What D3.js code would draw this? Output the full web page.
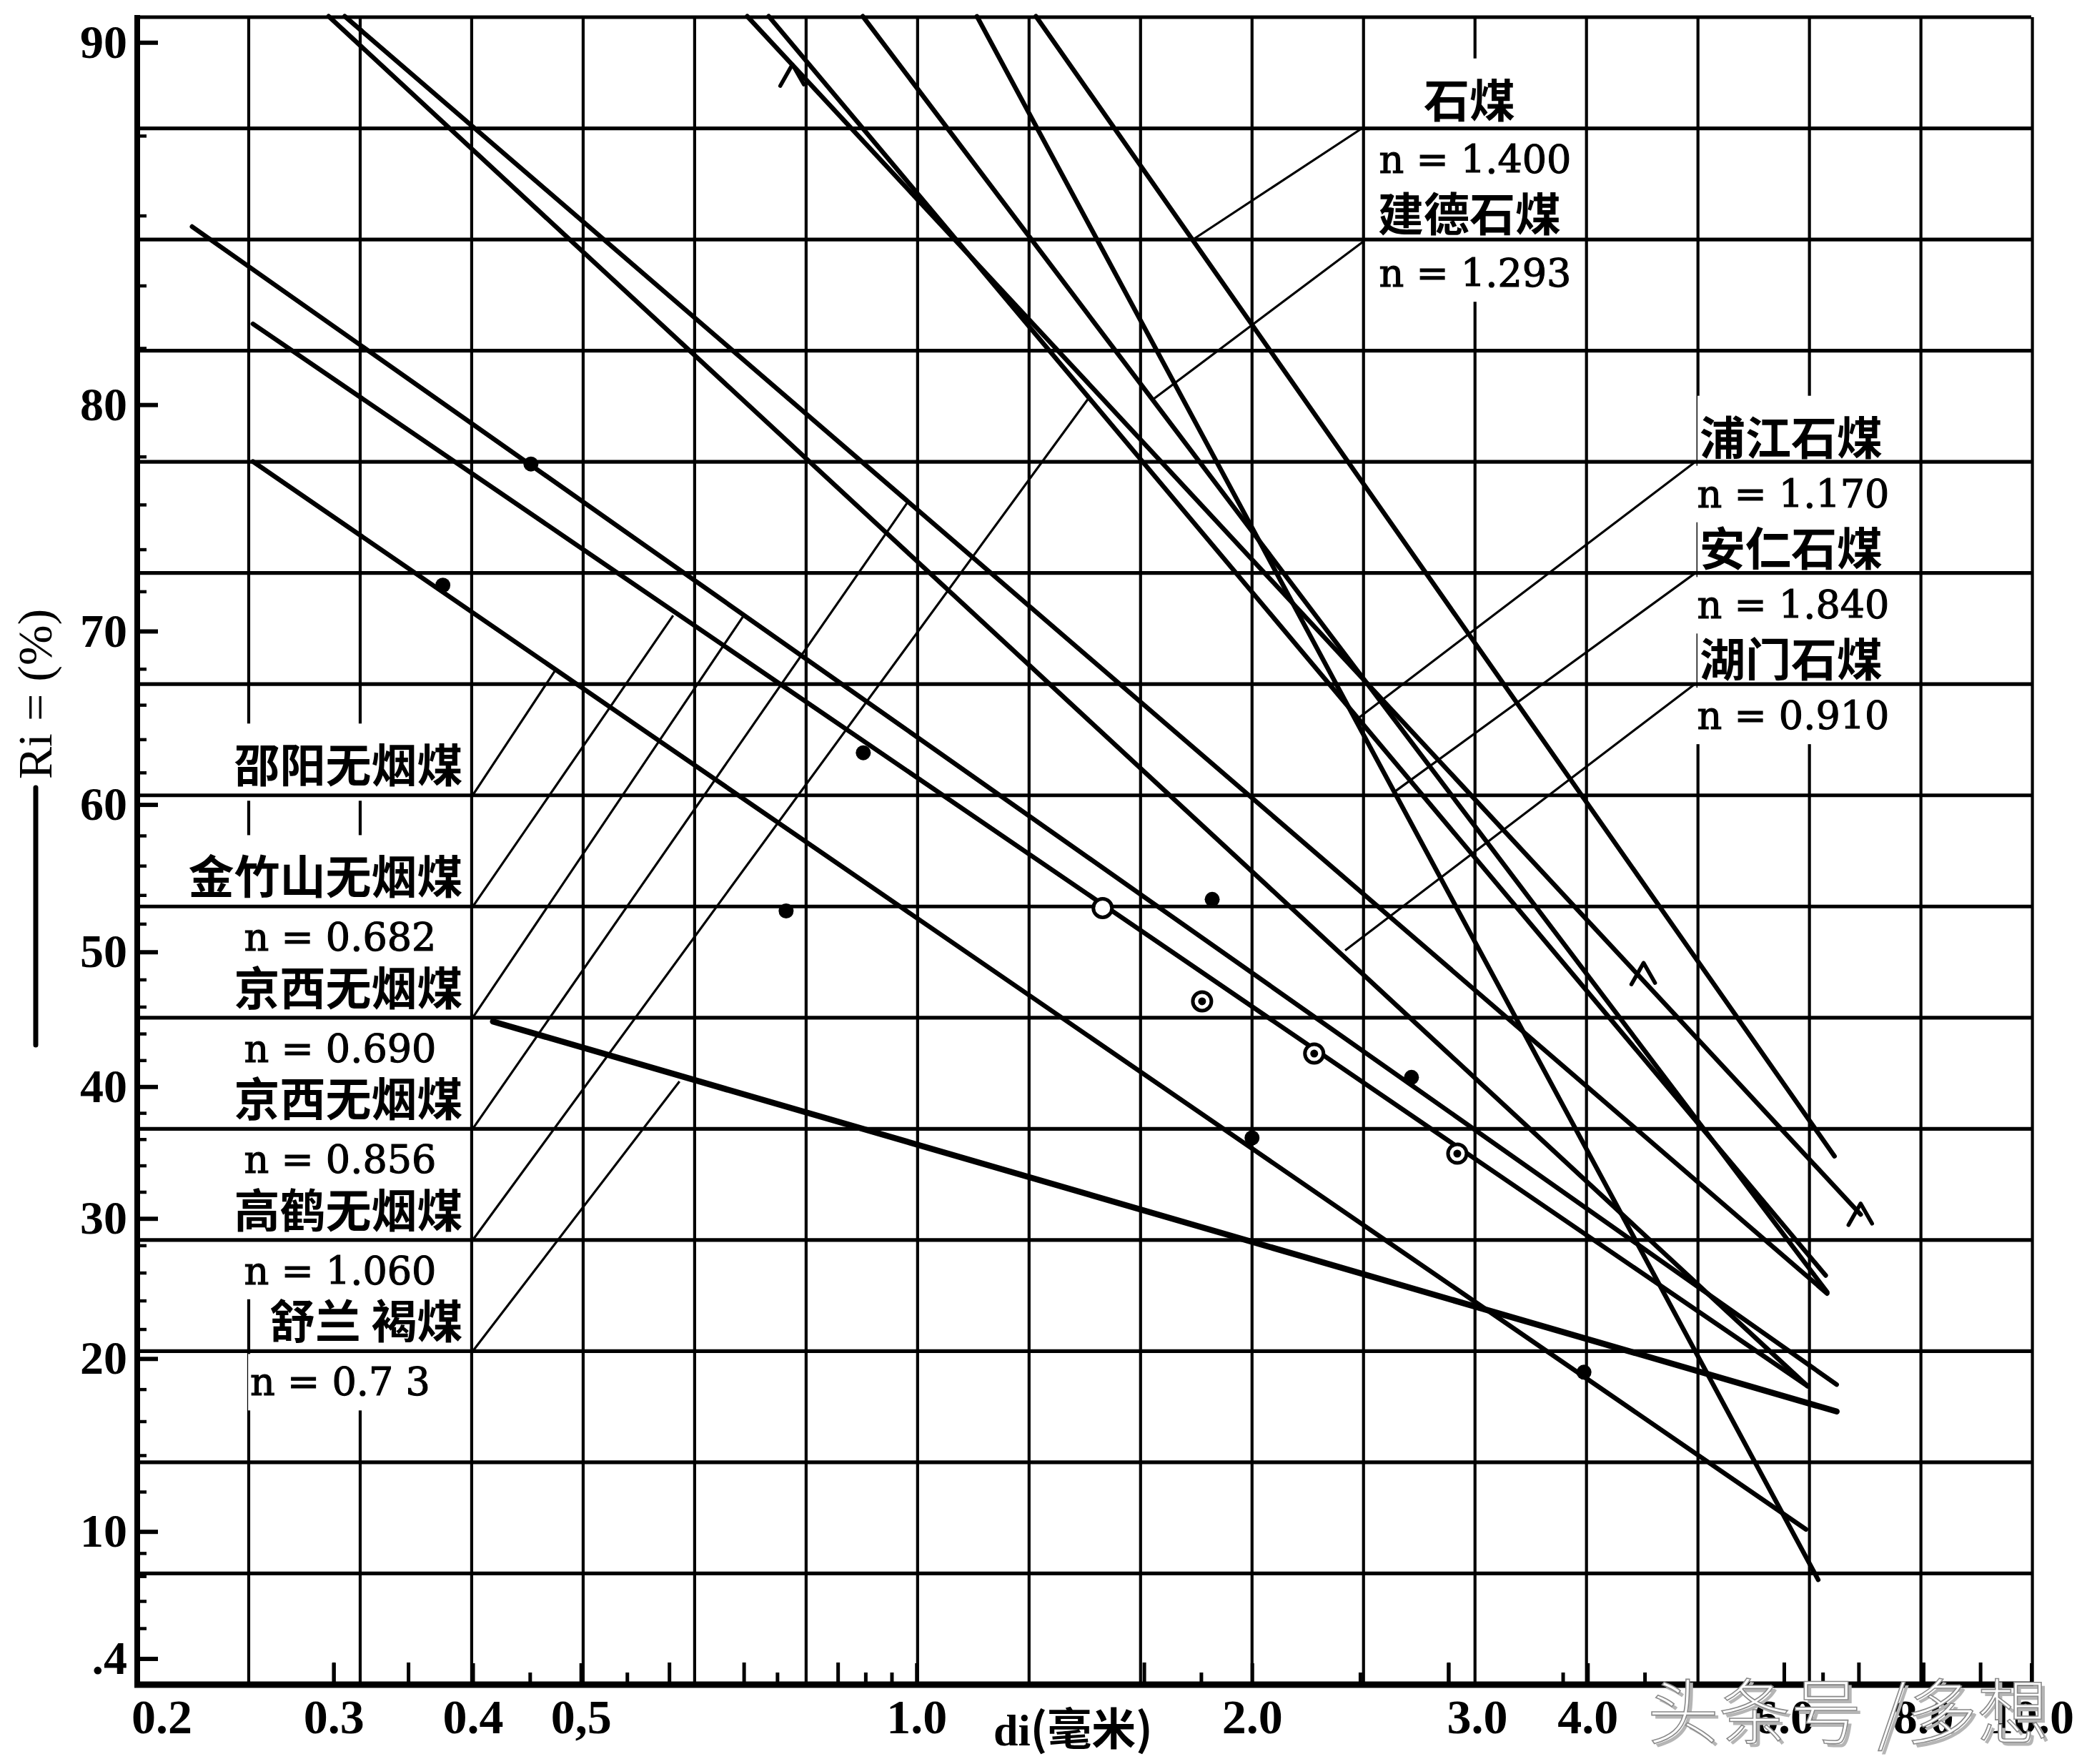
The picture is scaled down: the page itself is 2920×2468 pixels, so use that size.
<!DOCTYPE html>
<html><head><meta charset="utf-8">
<script src="https://cdn.jsdelivr.net/npm/d3@7"></script>
<style>html,body{margin:0;padding:0;background:#fff;}</style>
</head><body>
<svg id="chart" width="2920" height="2468"></svg>
<script>
// ---------------- DATA ----------------
const xTickValues = [0.2, 0.3, 0.4, 0.5, 1, 2, 3, 4, 6, 8, 10];
const xTickLabels = ["0.2", "0.3", "0.4", "0,5", "1.0", "2.0", "3.0", "4.0", "6.0", "8.0", "10.0"];
const xMinorLong = [0.3, 0.35, 0.6, 0.7, 0.85, 1.6, 3, 6, 7, 8, 9];
const xMinorShort = [0.45, 0.55, 0.75, 0.9, 0.95, 1.8, 2.5, 3.8, 4.5, 6.5];
const yTickValues = [90, 80, 70, 60, 50, 40, 30, 20, 10, 5];
const yTickLabels = ["90", "80", "70", "60", "50", "40", "30", "20", "10", ".4"];
const yMinorValues = [88, 86, 84, 82, 78, 76, 74, 72, 68, 66, 64, 62, 58, 56, 54, 52, 48, 46, 44, 42,
                      38, 36, 34, 32, 28, 26, 24, 22, 18, 16, 14, 12, 9, 8, 7, 6];

// fitted lines: [d (mm), Ri (%)] at both ends
const lineNames = ["石煤", "建德石煤", "浦江石煤", "安仁石煤", "湖门石煤", "京西无烟煤 0.856",
                   "高鹤无烟煤", "京西无烟煤 0.690", "金竹山无烟煤", "邵阳无烟煤", "舒兰褐煤"];
const lineFrom = [[1.28, 90.5], [0.895, 90.5], [0.737, 90.5], [1.133, 90.5], [0.297, 90.5], [0.307, 90.5],
                  [0.705, 90.5], [0.224, 85.7], [0.254, 82.8], [0.254, 77.8], [0.417, 44.9]];
const lineTo   = [[6.66, 34.7], [6.56, 24.6], [6.54, 25.8], [6.44, 7.85], [6.30, 18.2], [6.56, 24.5],
                  [7.03, 30.3], [6.69, 18.3], [6.30, 18.2], [6.28, 10.1], [6.69, 16.6]];

// measured points
const solidPoints = [[0.451, 77.7], [0.376, 72.3], [0.896, 63.2], [0.764, 52.9], [1.842, 53.7],
                     [2.78, 40.7], [2.00, 36.1], [3.97, 19.1]];
const ringPoints = [[1.469, 53.1]];
const ringDotPoints = [[1.804, 46.4], [2.274, 42.5], [3.056, 34.9]];
const caretPoints = [[0.774, 89.5], [4.49, 49.0], [7.03, 30.9]];

// label leaders
const leaderFrom = [[0.4, 60.6], [0.4, 53.2], [0.4, 45.2], [0.4, 36.8], [0.4, 28.4], [0.4, 20.5],
                    [5, 77.8], [5, 72.9], [5, 67.2], [2.52, 88.2], [2.52, 85.3]];
const leaderTo = [[0.474, 67.9], [0.605, 70.8], [0.700, 70.8], [0.982, 76.1], [1.425, 80.2], [0.613, 40.4],
                  [2.486, 65.2], [2.684, 60.8], [2.424, 50.1], [1.762, 85.3], [1.631, 80.2]];

// label texts
const leftNames = ["邵阳无烟煤", "金竹山无烟煤", "京西无烟煤", "京西无烟煤", "高鹤无烟煤", "舒兰 褐煤"];
const leftNValues = ["", "n = 0.682", "n = 0.690", "n = 0.856", "n = 1.060", "n = 0.7 3"];
const rightNames = ["浦江石煤", "安仁石煤", "湖门石煤"];
const rightNValues = ["n = 1.170", "n = 1.840", "n = 0.910"];
const topNames = ["石煤", "建德石煤"];
const topNValues = ["n = 1.400", "n = 1.293"];

// ---------------- DRAWING ----------------
const svg = d3.select("#chart");
svg.append("rect").attr("width", 2920).attr("height", 2468).attr("fill", "#fff");

const rr = R => Math.log10(Math.log(100 / R));          // Rosin-Rammler ordinate
const x = d3.scaleLog().domain([0.2, 10]).range([192, 2842]);
const y = d3.scaleLinear().domain([-1, 0.5]).range([24, 2357]);
const P = p => [x(p[0]), y(rr(p[1]))];

const gV = svg.append("g"), gMask = svg.append("g"), gH = svg.append("g"),
      gAxis = svg.append("g"), gLead = svg.append("g"), gData = svg.append("g"),
      gText = svg.append("g"), gWm = svg.append("g");

const BLACK = "#000";
const CJK = "'Noto Sans CJK SC', sans-serif";
const SERIF = "'Liberation Serif', 'DejaVu Serif', serif";
const NUM = "'DejaVu Serif', serif";

// paper grid
const vGrid = d3.range(18).map(k => 0.2 * Math.pow(10, k / 10));
const hGrid = d3.range(16).map(k => -1 + k / 10);
gV.selectAll("line").data(vGrid).join("line")
  .attr("x1", d => x(d)).attr("x2", d => x(d))
  .attr("y1", y(-1)).attr("y2", y(0.5))
  .attr("stroke", BLACK).attr("stroke-width", 4.2);
gH.selectAll("line").data(hGrid).join("line")
  .attr("x1", x(0.2)).attr("x2", x(10))
  .attr("y1", d => y(d)).attr("y2", d => y(d))
  .attr("stroke", BLACK).attr("stroke-width", 5.2);

// axis frame
gAxis.append("line").attr("x1", x(0.2)).attr("x2", x(0.2)).attr("y1", y(-1) - 3).attr("y2", y(0.5) + 4)
  .attr("stroke", BLACK).attr("stroke-width", 8);
gAxis.append("line").attr("x1", x(0.2) - 4).attr("x2", x(10) + 3).attr("y1", y(0.5)).attr("y2", y(0.5))
  .attr("stroke", BLACK).attr("stroke-width", 9);

// y axis
const yMajor = d3.axisLeft(y).tickValues(yTickValues.map(rr))
  .tickFormat((d, i) => yTickLabels[i]).tickSizeInner(-29).tickSizeOuter(0).tickPadding(14);
const yMinor = d3.axisLeft(y).tickValues(yMinorValues.map(rr))
  .tickFormat(() => "").tickSizeInner(-13).tickSizeOuter(0);
gAxis.append("g").attr("transform", `translate(${x(0.2)},0)`).call(yMinor)
  .call(g => g.select(".domain").remove())
  .call(g => g.selectAll("line").attr("stroke", BLACK).attr("stroke-width", 4.5));
gAxis.append("g").attr("transform", `translate(${x(0.2)},0)`).call(yMajor)
  .call(g => g.select(".domain").remove())
  .call(g => g.selectAll("line").attr("stroke", BLACK).attr("stroke-width", 6))
  .call(g => g.selectAll("text").attr("font-family", SERIF).attr("font-size", 66)
    .attr("font-weight", 700).attr("fill", BLACK));

// x axis
const xMajor = d3.axisBottom(x).tickValues(xTickValues)
  .tickFormat((d, i) => xTickLabels[i]).tickSizeInner(-30).tickSizeOuter(0).tickPadding(20);
const xOffsets = {"0.2": 34, "3.0": 40};
["long", "short"].forEach(k => {
  const ax = d3.axisBottom(x).tickValues(k === "long" ? xMinorLong : xMinorShort)
    .tickFormat(() => "").tickSizeInner(k === "long" ? -31 : -17).tickSizeOuter(0);
  gAxis.append("g").attr("transform", `translate(0,${y(0.5)})`).call(ax)
    .call(g => g.select(".domain").remove())
    .call(g => g.selectAll("line").attr("stroke", BLACK).attr("stroke-width", 5));
});
gAxis.append("g").attr("transform", `translate(0,${y(0.5)})`).call(xMajor)
  .call(g => g.select(".domain").remove())
  .call(g => g.selectAll("line").attr("stroke", BLACK).attr("stroke-width", 5))
  .call(g => g.selectAll("text").attr("font-family", SERIF).attr("font-size", 68)
    .attr("font-weight", 700).attr("fill", BLACK)
    .attr("dx", (d, i) => xOffsets[xTickLabels[i]] || 0));

// axis titles
gText.append("text").attr("transform", `translate(72,${971}) rotate(-90)`)
  .attr("text-anchor", "middle").attr("font-family", SERIF).attr("font-size", 68)
  .attr("fill", BLACK).text("Ri = (%)");
gAxis.append("line").attr("x1", 50).attr("x2", 50).attr("y1", 1102).attr("y2", 1462)
  .attr("stroke", BLACK).attr("stroke-width", 7).attr("stroke-linecap", "round");
const xt = gText.append("text").attr("x", 1390).attr("y", 2442).attr("font-size", 62).attr("fill", BLACK);
xt.append("tspan").attr("font-family", SERIF).attr("font-weight", 700).text("di");
xt.append("tspan").attr("font-family", CJK).attr("font-weight", 700).text("(毫米)");

// leaders
gLead.selectAll("line").data(leaderFrom).join("line")
  .attr("x1", d => P(d)[0]).attr("y1", d => P(d)[1])
  .attr("x2", (d, i) => P(leaderTo[i])[0]).attr("y2", (d, i) => P(leaderTo[i])[1])
  .attr("stroke", BLACK).attr("stroke-width", 3.2);

// fitted lines
const lineWidths = {"舒兰褐煤": 8.5};
gData.selectAll("line.fit").data(lineNames).join("line").attr("class", "fit")
  .attr("x1", (d, i) => P(lineFrom[i])[0]).attr("y1", (d, i) => P(lineFrom[i])[1])
  .attr("x2", (d, i) => P(lineTo[i])[0]).attr("y2", (d, i) => P(lineTo[i])[1])
  .attr("stroke", BLACK).attr("stroke-linecap", "round")
  .attr("stroke-width", d => lineWidths[d] || 6.5);

// points
gData.selectAll("circle.solid").data(solidPoints).join("circle").attr("class", "solid")
  .attr("cx", d => P(d)[0]).attr("cy", d => P(d)[1]).attr("r", 10.5).attr("fill", BLACK);
gData.selectAll("circle.ring").data(ringPoints.concat(ringDotPoints)).join("circle").attr("class", "ring")
  .attr("cx", d => P(d)[0]).attr("cy", d => P(d)[1]).attr("r", 13)
  .attr("fill", "#fff").attr("stroke", BLACK).attr("stroke-width", 5);
gData.selectAll("circle.rdot").data(ringDotPoints).join("circle").attr("class", "rdot")
  .attr("cx", d => P(d)[0]).attr("cy", d => P(d)[1]).attr("r", 5.5).attr("fill", BLACK);
gData.selectAll("path.caret").data(caretPoints).join("path").attr("class", "caret")
  .attr("d", d => { const [cx, cy] = P(d); return `M${cx - 17},${cy + 26} L${cx},${cy - 4} L${cx + 16},${cy + 24}`; })
  .attr("fill", "none").attr("stroke", BLACK).attr("stroke-width", 5.5)
  .attr("stroke-linecap", "round").attr("stroke-linejoin", "round");

// labels with white paper patches
function label(txt, px, py, anchor, kind) {
  if (!txt) return;
  const t = gText.append("text").attr("x", px).attr("y", py).attr("text-anchor", anchor)
    .attr("fill", BLACK).text(txt);
  if (kind === "name") t.attr("font-family", CJK).attr("font-size", 64).attr("font-weight", 700);
  else t.attr("font-family", NUM).attr("font-size", 54).attr("font-weight", 400)
        .attr("stroke", BLACK).attr("stroke-width", 1.2);
  const b = t.node().getBBox();
  gMask.append("rect").attr("x", b.x - 3).attr("y", b.y - 8)
    .attr("width", b.width + 6).attr("height", b.height + 16).attr("fill", "#fff");
}
leftNames.forEach((nm, i) => {
  const gy = P(leaderFrom[i])[1];
  label(nm, x(0.4) - 14, gy - 18, "end", "name");
  label(leftNValues[i], 476, gy + 62, "middle", "n");
});
rightNames.forEach((nm, i) => {
  const gy = P(leaderFrom[6 + i])[1];
  label(nm, 2506, gy - 10, "middle", "name");
  label(rightNValues[i], 2509, gy + 64, "middle", "n");
});
topNames.forEach((nm, i) => {
  const gy = P(leaderFrom[9 + i])[1];
  label(nm, 2056, gy - 14, "middle", "name");
  label(topNValues[i], 2064, gy + 64, "middle", "n");
});

// watermark
gWm.append("text").attr("x", 2310).attr("y", 2437).attr("font-family", CJK).attr("font-size", 100)
  .attr("font-weight", 300).attr("fill", "#b5b5b5").text("头条号 /多想");
gWm.append("text").attr("x", 2305).attr("y", 2432).attr("font-family", CJK).attr("font-size", 100)
  .attr("font-weight", 300).attr("fill", "#fff").attr("stroke", "#8a8a8a").attr("stroke-width", 1.6)
  .text("头条号 /多想");
</script>
</body></html>
